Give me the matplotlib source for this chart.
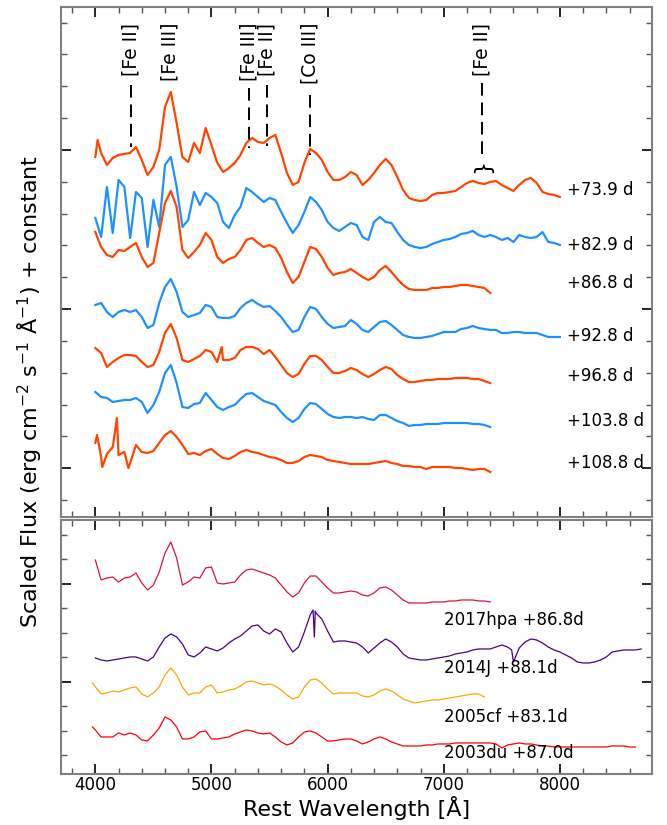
import numpy as np
import matplotlib
matplotlib.use("Agg")
import matplotlib.pyplot as plt
from matplotlib.ticker import MultipleLocator, FixedLocator

############################################################################
###                    SPECTRA (scaled flux + constant)                  ###
############################################################################
# sampling grids [A]
wave_long = np.arange(4000, 8001, 50)     # 4000 - 8000
wave_short = np.arange(4000, 7401, 50)    # 4000 - 7400

# 2017hpa sequence, top panel (values already include the offset)
flux_739 = [360, 364, 352, 359, 362, 363, 364, 370, 357, 342,
            350, 367, 410, 425, 394, 360, 355, 374, 364, 389,
            372, 354, 345, 349, 354, 362, 374, 379, 375, 374,
            379, 382, 364, 344, 332, 335, 354, 368, 364, 357,
            345, 337, 337, 340, 345, 342, 332, 337, 344, 352,
            358, 352, 340, 327, 319, 317, 316, 317, 322, 324,
            324, 325, 326, 330, 334, 336, 334, 333, 335, 336,
            332, 329, 326, 332, 337, 339, 334, 325, 323, 322,
            320]
flux_829 = [299, 280, 330, 284, 337, 330, 279, 325, 319, 270,
            317, 290, 352, 360, 330, 290, 297, 325, 312, 324,
            320, 314, 295, 289, 302, 310, 329, 325, 320, 315,
            319, 317, 305, 294, 284, 292, 305, 320, 315, 307,
            295, 289, 286, 290, 294, 292, 280, 277, 295, 300,
            295, 294, 285, 277, 272, 270, 269, 270, 273, 275,
            277, 278, 280, 283, 284, 286, 282, 280, 282, 280,
            277, 279, 275, 282, 280, 279, 280, 285, 275, 274,
            272]
flux_868 = [285, 270, 262, 260, 267, 266, 270, 274, 260, 250,
            254, 284, 314, 326, 310, 267, 259, 265, 272, 284,
            277, 260, 254, 258, 260, 267, 277, 279, 274, 270,
            272, 269, 259, 245, 234, 240, 255, 270, 268, 260,
            249, 242, 244, 245, 248, 244, 240, 237, 240, 247,
            251, 245, 238, 232, 228, 227, 227, 227, 229, 229,
            230, 230, 231, 232, 232, 231, 230, 229, 224]
flux_928 = [212, 214, 205, 200, 205, 207, 205, 207, 200, 189,
            192, 214, 230, 238, 225, 205, 200, 202, 204, 212,
            210, 200, 199, 199, 201, 209, 214, 217, 213, 210,
            211, 206, 200, 192, 185, 187, 200, 210, 208, 200,
            193, 189, 190, 191, 197, 193, 187, 185, 190, 195,
            196, 192, 187, 182, 180, 179, 179, 180, 181, 183,
            185, 185, 185, 188, 189, 191, 189, 188, 187, 187,
            184, 184, 185, 185, 184, 184, 184, 182, 180, 180,
            180]
flux_968 = [169, 164, 150, 155, 159, 162, 162, 161, 155, 150,
            152, 165, 184, 193, 179, 157, 155, 158, 161, 167,
            165, 155, 157, 157, 159, 167, 170, 170, 168, 163,
            167, 160, 152, 144, 140, 143, 153, 161, 161, 157,
            150, 144, 144, 146, 149, 147, 143, 140, 143, 147,
            150, 148, 142, 138, 135, 135, 136, 137, 137, 138,
            138, 138, 139, 139, 139, 138, 138, 136, 134]
flux_1038 = [125, 120, 119, 115, 116, 117, 117, 119, 115, 104,
             112, 125, 144, 152, 134, 110, 109, 113, 114, 124,
             117, 110, 107, 110, 112, 118, 123, 124, 120, 116,
             114, 112, 105, 99, 95, 99, 108, 114, 113, 108,
             103, 100, 99, 100, 100, 99, 100, 98, 97, 102,
             102, 99, 96, 94, 91, 92, 92, 93, 93, 93,
             94, 94, 94, 94, 94, 93, 93, 92, 90]
flux_1088 = [74, 60, 63, 70, 62, 65, 54, 72, 65, 64,
             66, 74, 82, 86, 80, 72, 63, 64, 62, 66,
             68, 63, 59, 58, 61, 65, 67, 65, 64, 62,
             60, 59, 57, 54, 54, 56, 60, 62, 61, 60,
             57, 56, 55, 54, 53, 53, 53, 53, 54, 55,
             56, 54, 53, 51, 51, 50, 50, 48, 50, 50,
             50, 50, 49, 49, 48, 47, 48, 48, 45]

# narrow spikes read separately
spike_739_w, spike_739_f = [4020], [377]
spike_968_w, spike_968_f = [5088], [170]
spike_1088_w, spike_1088_f = [4015, 4060, 4186, 4285], [82, 50, 99, 49]

# comparison objects, bottom panel
flux_17hpa = [215, 195, 197, 198, 193, 197, 198, 202, 192, 185,
              190, 203, 222, 233, 217, 190, 193, 198, 197, 207,
              208, 192, 191, 192, 193, 200, 205, 206, 204, 202,
              200, 197, 190, 183, 178, 182, 192, 199, 199, 193,
              187, 182, 182, 183, 184, 183, 180, 179, 182, 187,
              188, 185, 180, 175, 172, 172, 172, 172, 173, 173,
              173, 174, 174, 175, 175, 175, 174, 174, 173]
wave_14J = np.arange(4000, 8701, 50)
flux_14J = [117, 115, 114, 115, 116, 117, 118, 118, 116, 114,
            118, 128, 137, 141, 138, 131, 120, 118, 122, 128,
            126, 124, 127, 132, 136, 139, 144, 149, 150, 144,
            141, 146, 143, 132, 123, 128, 143, 160, 162, 156,
            144, 133, 134, 134, 133, 132, 128, 122, 127, 132,
            136, 133, 128, 121, 117, 116, 115, 115, 116, 117,
            118, 119, 121, 122, 123, 125, 126, 126, 126, 128,
            130, 128, 113, 127, 133, 136, 135, 132, 128, 125,
            123, 120, 117, 113, 112, 112, 113, 115, 118, 123,
            124, 125, 125, 125, 126]
spike_14J_w, spike_14J_f = [5875, 5886, 5894, 7585, 7625], [165, 138, 164, 125, 120]
wave_05cf = np.r_[3975, np.arange(4000, 7351, 50)]
flux_05cf = [92,
             88, 81, 82, 84, 83, 85, 87, 88, 81, 78,
             82, 88, 100, 107, 100, 88, 80, 82, 82, 88,
             90, 82, 83, 85, 86, 89, 93, 94, 92, 90,
             91, 89, 85, 80, 76, 78, 88, 95, 96, 92,
             86, 81, 82, 82, 82, 82, 79, 78, 80, 84,
             86, 84, 80, 76, 74, 72, 73, 74, 75, 75,
             76, 77, 78, 79, 80, 81, 81, 78]
wave_03du = np.r_[3975, np.arange(4000, 8651, 50)]
flux_03du = [48,
             45, 38, 38, 38, 42, 40, 42, 40, 35, 34,
             40, 47, 58, 55, 48, 36, 36, 38, 43, 44,
             36, 36, 37, 38, 41, 43, 45, 44, 42, 41,
             42, 38, 33, 30, 32, 38, 43, 44, 42, 38,
             34, 34, 35, 36, 36, 34, 31, 33, 36, 38,
             36, 33, 31, 29, 29, 29, 29, 30, 30, 31,
             31, 31, 32, 32, 32, 32, 32, 32, 32, 31,
             27, 30, 31, 32, 31, 31, 30, 29, 29, 28,
             28, 28, 28, 28, 28, 28, 28, 28, 28, 29,
             29, 29, 28, 28]

top_labels = ["+73.9 d", "+82.9 d", "+86.8 d", "+92.8 d", "+96.8 d", "+103.8 d", "+108.8 d"]
top_label_y = [327, 272, 234, 181, 141, 96, 54]
bottom_labels = ["2017hpa +86.8d", "2014J +88.1d", "2005cf +83.1d", "2003du +87.0d"]
bottom_label_y = [155, 107, 58, 22]

# line identifications: name, wavelength, dashed line top / bottom
line_names = ["[Fe II]", "[Fe III]", "[Fe III]", "[Fe II]", "[Co III]", "[Fe II]"]
line_wave = [4307, 4640, 5325, 5478, 5845, 7328]
line_top = [432, None, 429, 432, 422, 434]
line_bot = [370, None, 369, 371, 362, 357]


def with_spikes(w, f, sw=(), sf=()):
    w = np.concatenate([np.asarray(w, float), sw])
    f = np.concatenate([np.asarray(f, float), sf])
    order = np.argsort(w)
    return w[order], f[order]


c_orange = "orangered"
c_blue = "dodgerblue"

fig = plt.figure(figsize=(6.67, 8.25), dpi=100)
ax1 = fig.add_axes([0.0919, 0.3737, 0.8861, 0.6175])
ax2 = fig.add_axes([0.0919, 0.0615, 0.8861, 0.3082], sharex=ax1)

########################################################################################
# Top panel
########################################################################################
top_spectra = [
    (wave_long, flux_739, spike_739_w, spike_739_f, c_orange),
    (wave_long, flux_829, [], [], c_blue),
    (wave_short, flux_868, [], [], c_orange),
    (wave_long, flux_928, [], [], c_blue),
    (wave_short, flux_968, spike_968_w, spike_968_f, c_orange),
    (wave_short, flux_1038, [], [], c_blue),
    (wave_short, flux_1088, spike_1088_w, spike_1088_f, c_orange),
]
for w, f, sw, sf, col in top_spectra:
    x, y = with_spikes(w, f, sw, sf)
    ax1.plot(x, y, color=col, lw=1.6)

for lab, y in zip(top_labels, top_label_y):
    ax1.text(8062, y, lab, fontsize=12, va="center", ha="left")

for name, w, y0, y1 in zip(line_names, line_wave, line_top, line_bot):
    ax1.text(w, 494, name, rotation=90, fontsize=13.5, ha="center", va="top")
    if y0 is not None:
        ax1.plot([w, w], [y0, y1], color="k", lw=1.4, ls=(0, (6.5, 3.5)))
ax1.text(7328, 351, "}", rotation=90, fontsize=16, ha="center", va="center")

ax1.set_ylim(0.3, 509.7)
ax1.yaxis.set_major_locator(FixedLocator([48.7, 207.9, 367.1]))
ax1.yaxis.set_minor_locator(FixedLocator(np.arange(16.86, 509, 31.84)))

########################################################################################
# Bottom panel
########################################################################################
ax2.plot(wave_short, flux_17hpa, color="crimson", lw=0.9)
x, y = with_spikes(wave_14J, flux_14J, spike_14J_w, spike_14J_f)
ax2.plot(x, y, color="indigo", lw=0.9)
ax2.plot(wave_05cf, flux_05cf, color="orange", lw=0.9)
ax2.plot(wave_03du, flux_03du, color="red", lw=0.9)

for lab, y in zip(bottom_labels, bottom_label_y):
    ax2.text(7003, y, lab, fontsize=12, va="center", ha="left")

ax2.set_ylim(0.7, 255)
ax2.yaxis.set_major_locator(FixedLocator([93.3, 191.3]))
ax2.yaxis.set_minor_locator(FixedLocator(np.arange(19.8, 255, 24.5)))

ax2.set_xlim(3707, 8796)
ax2.xaxis.set_major_locator(MultipleLocator(1000))
ax2.xaxis.set_minor_locator(MultipleLocator(200))
ax2.set_xlabel("Rest Wavelength [Å]", fontsize=16, labelpad=1)

for ax in (ax1, ax2):
    ax.tick_params(which="both", direction="in", top=True, right=True, labelleft=False)
    ax.tick_params(which="major", length=7, width=1.2, color="k", labelsize=12, pad=1.5)
    ax.tick_params(which="minor", length=4, width=1.0, color="#555555")
    for sp in ax.spines.values():
        sp.set_color("gray")
        sp.set_linewidth(1.5)
ax1.tick_params(labelbottom=False)

fig.text(0.045, 0.525, r"Scaled Flux (erg cm$^{-2}$ s$^{-1}$ Å$^{-1}$) + constant",
         rotation=90, fontsize=16, ha="center", va="center")

plt.savefig("out.png", dpi=100)
